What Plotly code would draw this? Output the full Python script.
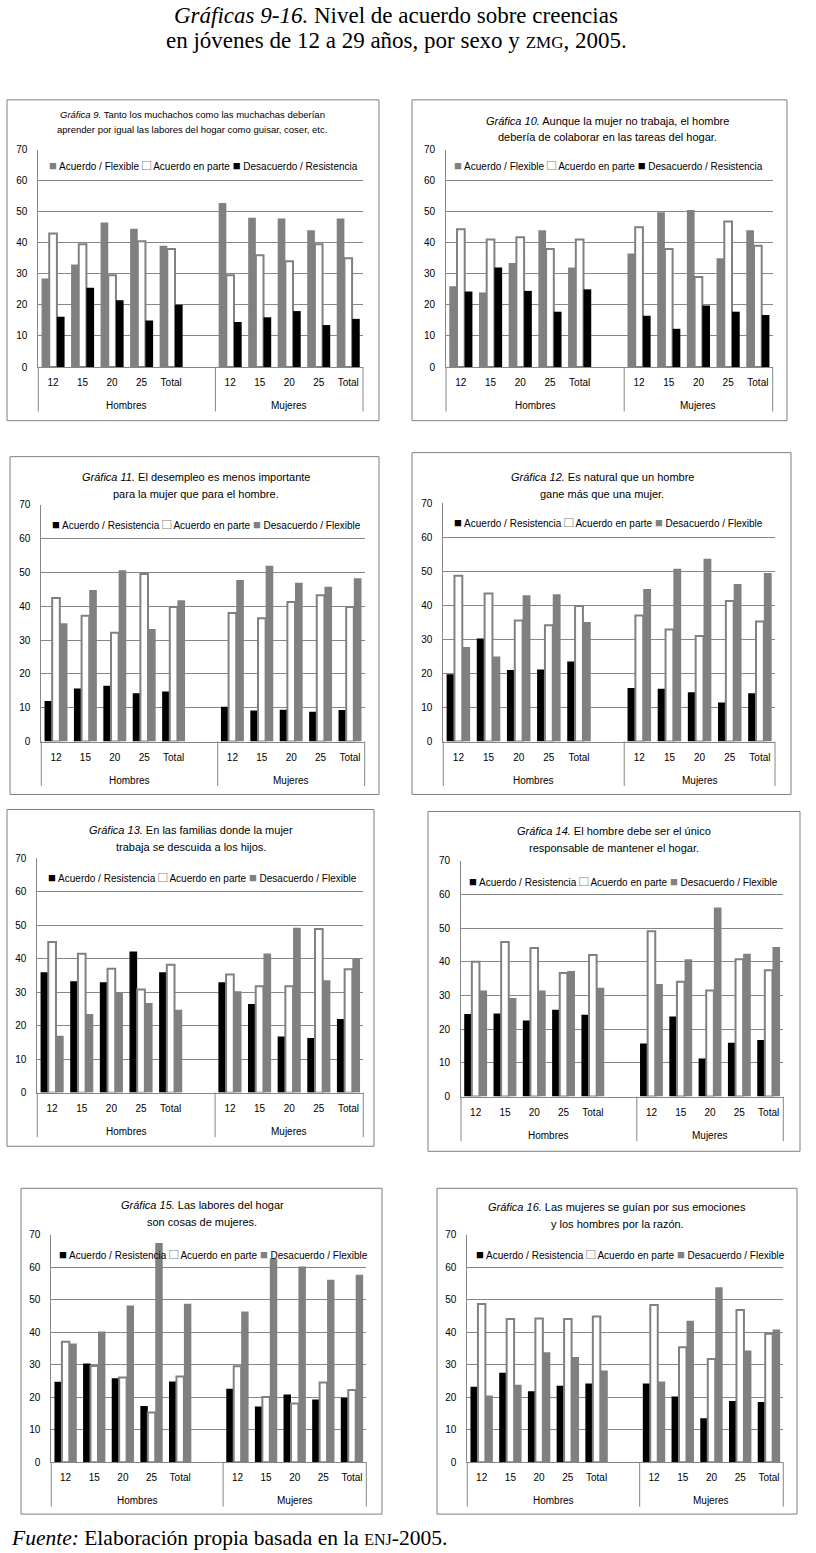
import plotly.graph_objects as go

# ---------------- DATA ----------------
sexos = ["Hombres", "Mujeres"]
edades = ["12", "15", "20", "25", "Total"]

nombres_a = ["Acuerdo / Flexible", "Acuerdo en parte", "Desacuerdo / Resistencia"]      # graficas 9-10
nombres_b = ["Acuerdo / Resistencia", "Acuerdo en parte", "Desacuerdo / Flexible"]      # graficas 11-16

# values: 5 Hombres (12,15,20,25,Total) then 5 Mujeres
g9_flexible    = [28.5, 33.0, 46.5, 44.5, 39.0, 52.8, 48.0, 47.8, 44.0, 47.8]
g9_en_parte    = [43.0, 39.5, 29.5, 40.5, 38.0, 29.5, 36.0, 34.0, 39.5, 35.0]
g9_resistencia = [16.2, 25.5, 21.5, 15.0, 20.0, 14.5, 16.0, 18.0, 13.5, 15.5]

g10_flexible    = [26.0, 24.0, 33.5, 44.0, 32.0, 36.5, 49.8, 50.5, 35.0, 44.0]
g10_en_parte    = [44.3, 41.0, 41.8, 38.0, 41.0, 45.0, 38.0, 29.0, 46.8, 39.0]
g10_resistencia = [24.3, 32.0, 24.5, 17.8, 25.0, 16.5, 12.3, 19.8, 17.8, 16.7]

g11_resistencia = [12.0, 15.7, 16.5, 14.3, 14.8, 10.3, 9.2, 9.4, 8.8, 9.3]
g11_en_parte    = [42.5, 37.2, 32.2, 49.6, 39.8, 38.0, 36.5, 41.3, 43.3, 39.8]
g11_flexible    = [35.0, 44.8, 50.7, 33.3, 41.8, 47.8, 52.0, 47.0, 45.8, 48.3]

g12_resistencia = [19.8, 30.3, 21.0, 21.2, 23.5, 15.7, 15.5, 14.5, 11.5, 14.2]
g12_en_parte    = [48.7, 43.5, 35.6, 34.2, 39.8, 37.0, 32.9, 31.0, 41.3, 35.3]
g12_flexible    = [27.8, 25.0, 43.0, 43.3, 35.1, 44.8, 50.8, 53.7, 46.3, 49.5]

g13_resistencia = [36.0, 33.3, 33.0, 42.2, 36.0, 33.0, 26.5, 16.8, 16.3, 22.0]
g13_en_parte    = [45.0, 41.5, 37.0, 30.8, 38.2, 35.3, 31.8, 31.8, 48.9, 36.9]
g13_flexible    = [17.0, 23.5, 29.8, 26.8, 24.8, 30.3, 41.6, 49.3, 33.6, 40.0]

g14_resistencia = [24.5, 24.7, 22.6, 25.8, 24.3, 15.8, 23.8, 11.3, 16.0, 16.8]
g14_en_parte    = [40.0, 45.9, 44.1, 36.7, 42.0, 49.1, 34.1, 31.5, 40.8, 37.5]
g14_flexible    = [31.5, 29.3, 31.5, 37.3, 32.3, 33.4, 40.8, 56.1, 42.4, 44.4]

g15_resistencia = [24.7, 30.3, 25.8, 17.3, 24.8, 22.6, 17.1, 20.8, 19.3, 19.8]
g15_en_parte    = [37.0, 29.6, 26.0, 15.3, 26.3, 29.5, 20.0, 18.0, 24.5, 22.2]
g15_flexible    = [36.5, 40.2, 48.2, 67.4, 48.7, 46.3, 62.6, 60.2, 56.1, 57.6]

g16_resistencia = [23.2, 27.5, 21.8, 23.5, 24.2, 24.2, 20.2, 13.5, 18.8, 18.5]
g16_en_parte    = [48.6, 44.0, 44.2, 44.0, 44.8, 48.3, 35.3, 31.7, 46.8, 39.5]
g16_flexible    = [20.5, 23.8, 33.8, 32.3, 28.2, 24.8, 43.5, 53.8, 34.3, 40.8]

titulos = [
    ["<i>Gráfica 9.</i> Tanto los muchachos como las muchachas deberían",
     "aprender por igual las labores del hogar como guisar, coser, etc."],
    ["<i>Gráfica 10.</i> Aunque la mujer no trabaja, el hombre",
     "debería de colaborar en las tareas del hogar."],
    ["<i>Gráfica 11.</i> El desempleo es menos importante",
     "para la mujer que para el hombre."],
    ["<i>Gráfica 12.</i> Es natural que un hombre",
     "gane más que una mujer."],
    ["<i>Gráfica 13.</i> En las familias donde la mujer",
     "trabaja se descuida a los hijos."],
    ["<i>Gráfica 14.</i> El hombre debe ser el único",
     "responsable de mantener el hogar."],
    ["<i>Gráfica 15.</i> Las labores del hogar",
     "son cosas de mujeres."],
    ["<i>Gráfica 16.</i> Las mujeres se guían por sus emociones",
     "y los hombres por la razón."],
]

series_por_grafica = [
    [(nombres_a[0], g9_flexible, "gris"), (nombres_a[1], g9_en_parte, "blanco"), (nombres_a[2], g9_resistencia, "negro")],
    [(nombres_a[0], g10_flexible, "gris"), (nombres_a[1], g10_en_parte, "blanco"), (nombres_a[2], g10_resistencia, "negro")],
    [(nombres_b[0], g11_resistencia, "negro"), (nombres_b[1], g11_en_parte, "blanco"), (nombres_b[2], g11_flexible, "gris")],
    [(nombres_b[0], g12_resistencia, "negro"), (nombres_b[1], g12_en_parte, "blanco"), (nombres_b[2], g12_flexible, "gris")],
    [(nombres_b[0], g13_resistencia, "negro"), (nombres_b[1], g13_en_parte, "blanco"), (nombres_b[2], g13_flexible, "gris")],
    [(nombres_b[0], g14_resistencia, "negro"), (nombres_b[1], g14_en_parte, "blanco"), (nombres_b[2], g14_flexible, "gris")],
    [(nombres_b[0], g15_resistencia, "negro"), (nombres_b[1], g15_en_parte, "blanco"), (nombres_b[2], g15_flexible, "gris")],
    [(nombres_b[0], g16_resistencia, "negro"), (nombres_b[1], g16_en_parte, "blanco"), (nombres_b[2], g16_flexible, "gris")],
]

# ---------------- LAYOUT (pixel positions measured on the 816x1553 page) ----------------
W, H = 816, 1553
GRID = "#868686"
SANS = "Liberation Sans, Arial, sans-serif"
SERIF = "Liberation Serif, Times New Roman, serif"
# vertical calibration of the capture (measured: shown_y = CAL_A + CAL_B * css_y)
CAL_A, CAL_B = 5.1, 0.9928

ESTILO = {
    "gris":   dict(fill="#808080", line="#808080", lw=0),
    "blanco": dict(fill="#ffffff", line="#808080", lw=2),
    "negro":  dict(fill="#000000", line="#000000", lw=0),
}

# plot area: x0, x1, y(70), y(0); box: x0, y0, x1, y1; title: cx, y1, y2, size; legend: x, y
geo = [
    dict(pa=(38.3, 363.0, 148.7, 366.3), box=(7, 99, 379, 420),   tt=(192, 113.7, 128.7, 9.5), lg=(47, 163.7)),
    dict(pa=(446.0, 772.7, 148.7, 366.3), box=(412, 99, 787, 420), tt=(607, 120.3, 136.3, 11), lg=(452, 163.7)),
    dict(pa=(41.3, 364.7, 504.3, 741.0), box=(10, 456, 379, 794),  tt=(196, 476.7, 493.3, 11), lg=(50, 523.3)),
    dict(pa=(443.3, 775.0, 502.7, 741.0), box=(412, 452, 791, 794), tt=(602, 476.7, 493.3, 11), lg=(452, 521)),
    dict(pa=(37.3, 363.3, 858.0, 1092.3), box=(7, 809, 374, 1146), tt=(191, 829.7, 846.3, 11), lg=(45.5, 876.3)),
    dict(pa=(461.0, 783.3, 860.3, 1096.3), box=(428, 811, 800, 1151), tt=(614, 830.7, 847.3, 11), lg=(467, 879.7)),
    dict(pa=(51.3, 366.3, 1234.3, 1462.0), box=(21, 1188, 382, 1514), tt=(202, 1205, 1221.7, 11), lg=(57, 1253.3)),
    dict(pa=(467.3, 783.3, 1234.3, 1462.0), box=(437, 1188, 797, 1514), tt=(617, 1206.7, 1223.3, 11), lg=(474, 1253.3)),
]
CAT_LABEL_GAP = 6      # px between axis line and age labels
GROUP_LABEL_Y = -38.5  # px below axis for Hombres / Mujeres
DIVIDER_LEN = -44.5    # px below axis for group dividers

def px(x):
    return x / W

def py(y):
    return 1 - ((y - CAL_A) / CAL_B) / H

# category keys (sexo, edad); an empty slot follows Hombres/Total as in the original
hueco_key = f"{sexos[0]}|"
claves = [f"{s}|{e}" for s in sexos for e in edades]
n_e = len(edades)
claves_eje = claves[:n_e] + [hueco_key] + claves[n_e:]
etiquetas_eje = edades + [""] + edades
n_slots = len(claves_eje)
grupos = [(sexos[0], 0, n_e + 1), (sexos[1], n_e + 1, n_e + 1 + n_e)]   # (label, first slot, end slot)

def con_hueco(v):
    return list(v[:n_e]) + [None] + list(v[n_e:])

fig = go.Figure()
layout = dict(
    width=W, height=H, autosize=False,
    margin=dict(l=0, r=0, t=0, b=0),
    paper_bgcolor="white", plot_bgcolor="white",
    barmode="group", bargap=0.22, bargroupgap=0.0,
    showlegend=False,
    font=dict(family=SANS, size=10, color="#000000"),
)
shapes = []
annotations = []

for i, (series, g, tit) in enumerate(zip(series_por_grafica, geo, titulos)):
    n = i + 1
    xa = "x" if n == 1 else f"x{n}"
    ya = "y" if n == 1 else f"y{n}"
    xk = "xaxis" if n == 1 else f"xaxis{n}"
    yk = "yaxis" if n == 1 else f"yaxis{n}"
    for name, vals, est in series:
        s = ESTILO[est]
        fig.add_trace(go.Bar(
            x=claves_eje, y=con_hueco(vals), name=name,
            xaxis=xa, yaxis=ya,
            marker=dict(color=s["fill"], line=dict(color=s["line"], width=s["lw"])),
        ))
    x0, x1, ytop, ybot = g["pa"]
    layout[xk] = dict(
        domain=[px(x0), px(x1)], anchor=ya, type="category",
        categoryorder="array", categoryarray=claves_eje,
        tickmode="array", tickvals=claves_eje, ticktext=etiquetas_eje,
        showline=True, linecolor=GRID, linewidth=1, showgrid=False,
        ticks="", tickangle=0, ticklabelstandoff=CAT_LABEL_GAP,
        tickfont=dict(size=10, color="#000000", family=SANS),
    )
    layout[yk] = dict(
        domain=[py(ybot), py(ytop)], anchor=xa, range=[0, 70],
        tick0=0, dtick=10, showgrid=True, gridcolor=GRID, gridwidth=1,
        showline=True, linecolor=GRID, linewidth=1, zeroline=False,
        ticks="", ticklabelstandoff=8,
        tickfont=dict(size=10, color="#000000", family=SANS),
    )
    # group labels and dividers of the two-level category axis
    bordes = sorted({b for _, a, e in grupos for b in (a, e)})
    for b in bordes:
        fx = b / n_slots
        shapes.append(dict(type="line", xref=f"{xa} domain", yref=f"{ya} domain", x0=fx, x1=fx,
                           ysizemode="pixel", yanchor=0, y0=0, y1=DIVIDER_LEN,
                           line=dict(color=GRID, width=1)))
    for lab, a, e in grupos:
        annotations.append(dict(text=lab, xref=f"{xa} domain", yref=f"{ya} domain",
                                x=(a + e) / 2 / n_slots, y=0,
                                yshift=GROUP_LABEL_Y, xanchor="center", yanchor="middle",
                                showarrow=False, font=dict(size=10, family=SANS, color="#000000")))
    bx0, by0, bx1, by1 = g["box"]
    shapes.append(dict(type="rect", xref="paper", yref="paper",
                       x0=px(bx0), x1=px(bx1), y0=py(by1), y1=py(by0),
                       line=dict(color="#7f7f7f", width=1), fillcolor="rgba(0,0,0,0)", layer="below"))
    cx, t1, t2, tsz = g["tt"]
    for line, yy in zip(tit, (t1, t2)):
        annotations.append(dict(text=line, x=px(cx), y=py(yy), xref="paper", yref="paper",
                                xanchor="center", yanchor="middle", showarrow=False,
                                font=dict(size=tsz, family=SANS, color="#000000")))
    # legend built as a text row
    parts = []
    for name, vals, est in series:
        s = ESTILO[est]
        if est == "blanco":
            sw = f"<span style='color:{s['line']};font-size:15px'><b>□</b></span>"
        else:
            sw = f"<span style='color:{s['fill']};font-size:13px'>■</span>"
        parts.append(sw + " " + name)
    lx, lyy = g["lg"]
    annotations.append(dict(text=" ".join(parts), x=px(lx), y=py(lyy), xref="paper", yref="paper",
                            xanchor="left", yanchor="middle", showarrow=False,
                            font=dict(size=10, family=SANS, color="#000000")))

# main title and source
annotations.append(dict(text="<i>Gráficas 9-16.</i> Nivel de acuerdo sobre creencias",
                        x=px(396), y=py(15), xref="paper", yref="paper", xanchor="center", yanchor="middle",
                        showarrow=False, font=dict(size=23, family=SERIF, color="#000000")))
annotations.append(dict(text="en jóvenes de 12 a 29 años, por sexo y <span style='font-size:17px'>ZMG</span>, 2005.",
                        x=px(396), y=py(40), xref="paper", yref="paper", xanchor="center", yanchor="middle",
                        showarrow=False, font=dict(size=23, family=SERIF, color="#000000")))
annotations.append(dict(text="<i>Fuente:</i> Elaboración propia basada en la <span style='font-size:16px'>ENJ</span>-2005.",
                        x=px(9), y=py(1537.5), xref="paper", yref="paper", xanchor="left", yanchor="middle",
                        showarrow=False, font=dict(size=21.5, family=SERIF, color="#000000")))

layout["shapes"] = shapes
layout["annotations"] = annotations
fig.update_layout(**layout)
fig.write_html(
    "out.html",
    config={"displayModeBar": False},
    post_script=(
        "document.body.style.margin='0px';"
        "document.documentElement.style.overflow='hidden';"
        "var d=document.getElementById('{plot_id}');"
        "d.style.position='absolute';d.style.top='0px';d.style.left='0px';"
    ),
)
